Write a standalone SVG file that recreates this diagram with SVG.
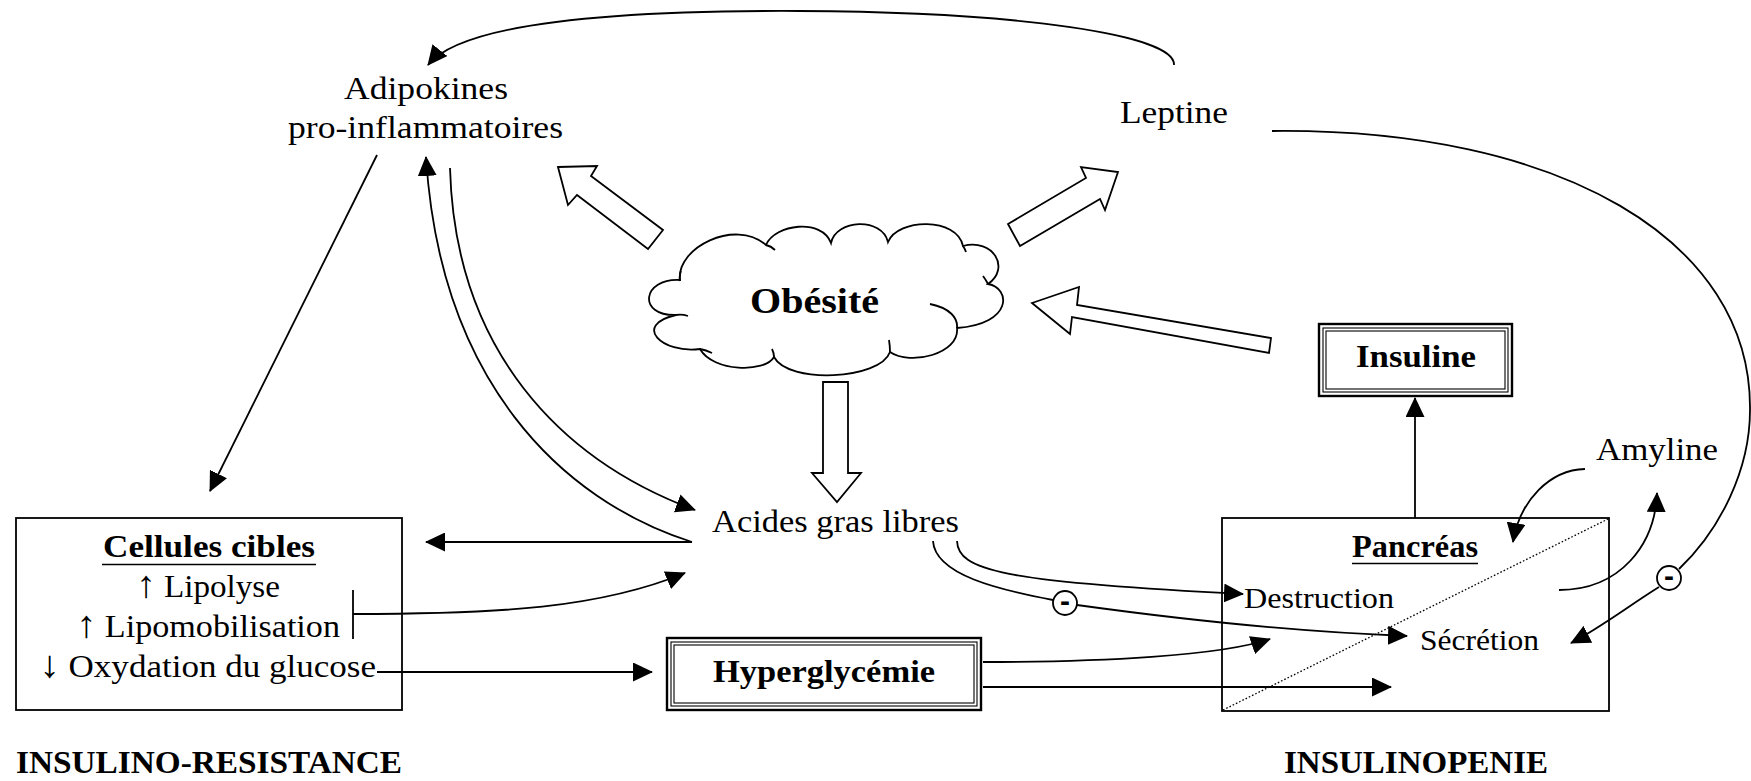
<svg xmlns="http://www.w3.org/2000/svg" width="1751" height="781" viewBox="0 0 1751 781">
<style>
text{font-family:"Liberation Serif","Times New Roman",serif;fill:#000}
.t{font-size:32px}
.s{font-size:30px}
.b{font-size:31px;font-weight:bold}
.ar{font-size:38px}
.ln{fill:none;stroke:#000;stroke-width:1.8}
.arr{fill:none;stroke:#000;stroke-width:1.8;marker-end:url(#ah)}
.blk{fill:#fff;stroke:#000;stroke-width:1.8;stroke-linejoin:miter}
.box{fill:#fff;stroke:#000;stroke-width:1.8}
.frame{fill:none;stroke:#000;stroke-width:1.8}
.o{fill:none;stroke:#000;stroke-width:2.4}
.i{fill:none;stroke:#000;stroke-width:1.1}
.m{font-family:"Liberation Sans",Arial,sans-serif;font-size:30px;font-weight:bold}
</style>
<defs>
<marker id="ah" viewBox="0 0 20 19" refX="19" refY="9.5" markerWidth="20" markerHeight="19" orient="auto" markerUnits="userSpaceOnUse">
<path d="M0,0 L20,9.5 L0,19 z" fill="#000"/>
</marker>
</defs>
<rect width="1751" height="781" fill="#fff"/>

<g id="cellules">
<rect class="frame" x="16" y="518" width="386" height="192"/>
<text class="b" x="103" y="557" font-size="32" textLength="212" lengthAdjust="spacingAndGlyphs">Cellules cibles</text>
<path d="M102,564.5 H316" stroke="#000" stroke-width="1.6"/>
<text class="t" x="136" y="597" textLength="144" lengthAdjust="spacingAndGlyphs"><tspan class="ar">↑</tspan> Lipolyse</text>
<text class="t" x="76" y="637" textLength="264" lengthAdjust="spacingAndGlyphs"><tspan class="ar">↑</tspan> Lipomobilisation</text>
<text class="t" x="39" y="677" textLength="337" lengthAdjust="spacingAndGlyphs"><tspan class="ar">↓</tspan> Oxydation du glucose</text>
</g>

<g id="pancreas">
<rect class="frame" x="1222" y="518" width="387" height="193"/>
<path d="M1223,710 L1608,519" fill="none" stroke="#000" stroke-dasharray="1.6 2" stroke-width="1.3"/>
<text class="b" x="1352" y="557" textLength="126" lengthAdjust="spacingAndGlyphs">Pancréas</text>
<path d="M1352,563.5 H1478" stroke="#000" stroke-width="1.6"/>
<text class="s" x="1244" y="608" textLength="150" lengthAdjust="spacingAndGlyphs">Destruction</text>
<text class="s" x="1420" y="650" textLength="119" lengthAdjust="spacingAndGlyphs">Sécrétion</text>
</g>

<g id="connectors">
<path class="arr" d="M1174,65 C1176,35 1020,12 800,11 C600,10 460,25 428,65"/>
<path class="arr" d="M377,155 L210,491"/>
<path class="arr" d="M692,542 C560,500 440,380 426,157"/>
<path class="arr" d="M450,168 C455,350 560,460 695,510"/>
<path class="arr" d="M692,542 L426,542"/>
<path class="ln" d="M353,590 L353,639"/>
<path class="arr" d="M353,614 C500,614 600,608 685,573"/>
<path class="arr" d="M377,672 L652,672"/>
<path class="arr" d="M983,662 C1100,662 1220,656 1270,639"/>
<path class="arr" d="M983,687 L1391,687"/>
<path class="arr" d="M957,541 C958,570 1000,582 1243,594"/>
<path class="ln" d="M933,541 C935,575 1000,590 1053,600"/>
<path class="arr" d="M1077,605 C1200,622 1300,632 1407,636"/>
<path class="arr" d="M1415,518 L1415,398"/>
<path class="arr" d="M1585,469 C1550,470 1520,500 1513,542"/>
<path class="arr" d="M1559,590 C1620,590 1655,545 1657,493"/>
<path class="ln" d="M1272,131 C1560,128 1752,240 1750,410 C1750,470 1720,530 1679,569"/>
<path class="arr" d="M1659,587 C1630,605 1600,628 1571,643"/>
</g>

<g id="minus1">
<circle cx="1065" cy="603" r="12" class="box"/>
<text class="m" x="1065" y="611" text-anchor="middle">-</text>
</g>
<g id="minus2">
<circle cx="1669" cy="578" r="12" class="box"/>
<text class="m" x="1669" y="586" text-anchor="middle">-</text>
</g>

<g id="blockarrows">
<polygon class="blk" points="558,167 597,166 591,176 663,230 648,249 577,195 568,205"/>
<polygon class="blk" points="1118,172 1105,210 1100,199 1020,246 1008,224 1086,178 1081,167"/>
<polygon class="blk" points="1032,303 1079,287 1077,305 1271,338 1269,353 1072,317 1070,334"/>
<polygon class="blk" points="823,382 848,382 848,473 861,473 837,502 812,473 823,473"/>
</g>

<g id="obesite">
<path class="box" d="M680,280 C676,248 735,218 766,245 C775,224 822,218 831,243 C836,219 882,217 888,242 C898,218 957,217 963,246 C993,238 1011,268 988,284 C1011,288 1013,324 957,328 C960,354 910,366 890,352 C880,380 788,384 774,357 C765,373 713,372 700,349 C662,354 632,325 676,315 C637,316 642,278 680,280 Z"/>
<path class="ln" d="M676,315 Q682,314 688,316 M680,281 Q679,276 681,271 M766,245 Q771,246 775,250 M963,246 Q965,249 966,252 M988,284 Q986,280 983,276 M957,328 C958,318 950,308 930,304 M890,352 Q890,346 889,340 M774,357 Q774,353 772,349 M700,349 Q706,350 712,353"/>
<text x="750" y="313" font-size="36" font-weight="bold" textLength="129" lengthAdjust="spacingAndGlyphs">Obésité</text>
</g>

<g id="adipokines">
<text class="t" x="344" y="99" textLength="164" lengthAdjust="spacingAndGlyphs">Adipokines</text>
<text class="t" x="288" y="138" textLength="275" lengthAdjust="spacingAndGlyphs">pro-inflammatoires</text>
</g>

<g id="leptine">
<text class="t" x="1120" y="123" textLength="108" lengthAdjust="spacingAndGlyphs">Leptine</text>
</g>

<g id="acides">
<text class="t" x="712" y="532" textLength="247" lengthAdjust="spacingAndGlyphs">Acides gras libres</text>
</g>

<g id="hyperglycemie">
<rect x="667" y="638" width="314" height="72" fill="#fff"/>
<rect class="o" x="667" y="638" width="314" height="72"/>
<rect class="i" x="671" y="642" width="306" height="64"/>
<rect class="i" x="674" y="645" width="300" height="58"/>
<text class="b" x="713" y="682" textLength="222" lengthAdjust="spacingAndGlyphs">Hyperglycémie</text>
</g>

<g id="insuline">
<rect x="1319" y="324" width="193" height="72" fill="#fff"/>
<rect class="o" x="1319" y="324" width="193" height="72"/>
<rect class="i" x="1323" y="328" width="185" height="64"/>
<rect class="i" x="1326" y="331" width="179" height="58"/>
<text class="b" x="1356" y="367" textLength="120" lengthAdjust="spacingAndGlyphs">Insuline</text>
</g>

<g id="amyline">
<text class="t" x="1596" y="460" textLength="122" lengthAdjust="spacingAndGlyphs">Amyline</text>
</g>

<g id="labels">
<text class="b" x="16" y="773" textLength="386" lengthAdjust="spacingAndGlyphs">INSULINO-RESISTANCE</text>
<text class="b" x="1284" y="773" font-size="30" textLength="264" lengthAdjust="spacingAndGlyphs">INSULINOPENIE</text>
</g>
</svg>
